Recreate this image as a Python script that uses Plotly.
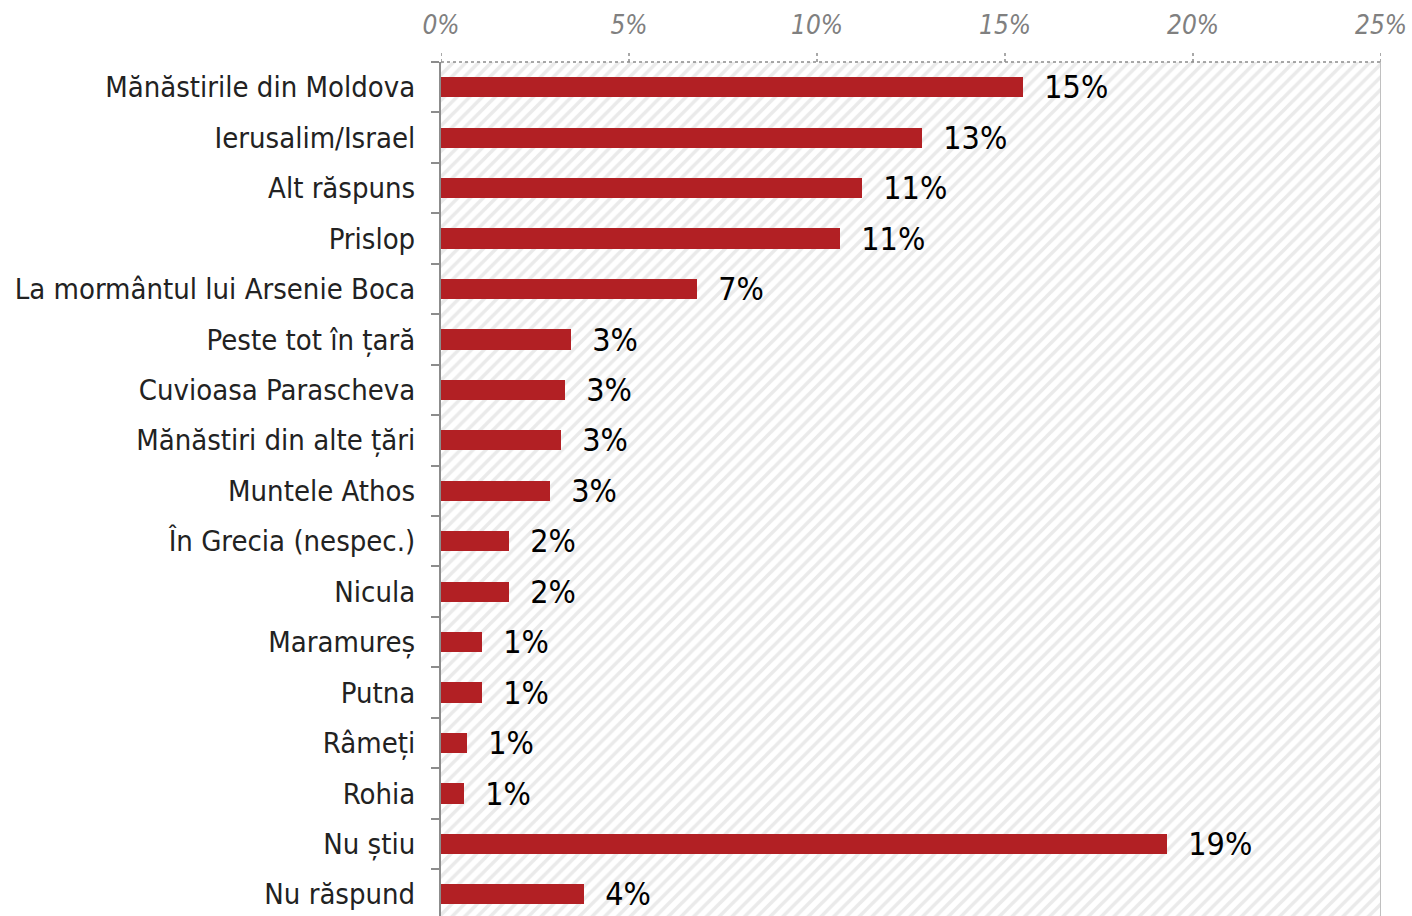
import plotly.graph_objects as go

categories = [
    "Mănăstirile din Moldova", "Ierusalim/Israel", "Alt răspuns", "Prislop",
    "La mormântul lui Arsenie Boca", "Peste tot în țară", "Cuvioasa Parascheva",
    "Mănăstiri din alte țări", "Muntele Athos", "În Grecia (nespec.)", "Nicula",
    "Maramureș", "Putna", "Râmeți", "Rohia", "Nu știu", "Nu răspund",
]
values = [15.49, 12.8, 11.2, 10.6, 6.8, 3.45, 3.3, 3.2, 2.9, 1.8, 1.8, 1.1, 1.1, 0.7, 0.6, 19.3, 3.8]
tick_vals = [0, 5, 10, 15, 20, 25]
tick_text = ["0%", "5%", "10%", "15%", "20%", "25%"]
x_max = 25

FONT = "DejaVu Sans Condensed"

fig = go.Figure()

# hatched plot background
fig.add_trace(go.Bar(
    y=categories, x=[x_max] * len(categories), orientation="h", width=1,
    marker=dict(color="white", line=dict(width=0),
                pattern=dict(shape="/", fgcolor="#d6d6d6", bgcolor="white", size=9, solidity=0.4)),
    hoverinfo="skip", showlegend=False,
))

fig.add_trace(go.Bar(
    y=categories, x=values, orientation="h", width=0.4,
    marker=dict(color="#B22024", line=dict(width=0)),
    texttemplate="\u00a0\u00a0%{x:.0f}%", textposition="outside", constraintext="none",
    textfont=dict(family=FONT, size=32, color="#000000"),
    cliponaxis=False, showlegend=False, hoverinfo="skip",
))

shapes = [
    dict(type="line", xref="x", yref="y domain", x0=0, x1=x_max, y0=1, y1=1,
         line=dict(color="#8c8c8c", width=1.5, dash="dot"), layer="above"),
    dict(type="line", xref="x", yref="y domain", x0=x_max, x1=x_max, y0=0, y1=1,
         line=dict(color="#c0c0c0", width=2), layer="above"),
]
for tv in tick_vals:
    shapes.append(dict(type="line", xref="x", yref="y domain", x0=tv, x1=tv, y0=1, y1=1.011,
                       line=dict(color="#8c8c8c", width=1.5, dash="dot"), layer="above"))

fig.update_layout(
    width=1412, height=916,
    margin=dict(l=441, r=31, t=62, b=0, autoexpand=False),
    paper_bgcolor="white", plot_bgcolor="white",
    barmode="overlay", bargap=0,
    shapes=shapes,
    xaxis=dict(
        side="top", range=[0, x_max], tickvals=tick_vals, ticktext=tick_text,
        showgrid=False, zeroline=False, showline=False, ticks="", automargin=False,
        tickfont=dict(family=FONT, size=26, color="#808080", style="italic"),
        ticklabelstandoff=22,
    ),
    yaxis=dict(
        categoryorder="array", categoryarray=categories, automargin=False,
        range=[16.43, -0.5], showgrid=False, zeroline=False,
        showline=True, linecolor="#8c8c8c", linewidth=2,
        ticks="outside", tickson="boundaries", ticklen=8, tickcolor="#8c8c8c", tickwidth=1.5,
        tickfont=dict(family=FONT, size=29, color="#222222"),
        ticklabelstandoff=18,
    ),
)

fig.write_html(
    "out.html",
    config={"displayModeBar": False},
    post_script="document.body.style.margin='0';document.body.style.overflow='hidden';",
)
